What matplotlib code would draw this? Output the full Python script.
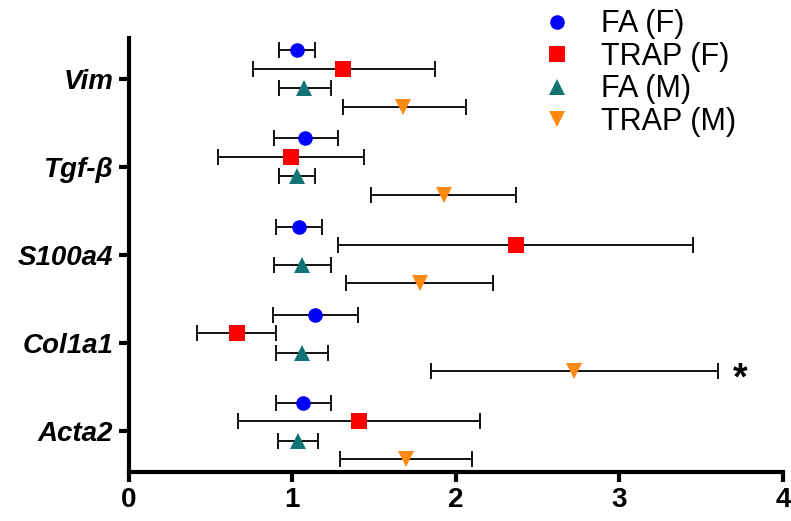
import matplotlib.pyplot as plt
import numpy as np

plt.rcParams["font.family"] = ["Liberation Sans", "DejaVu Sans"]

genes = ["Vim", "Tgf-β", "S100a4", "Col1a1", "Acta2"]
groups = ["FA (F)", "TRAP (F)", "FA (M)", "TRAP (M)"]

# mean, lower, upper for each gene (order as in genes)
fa_f_mean = [1.03, 1.08, 1.04, 1.14, 1.065]
fa_f_low = [0.92, 0.89, 0.90, 0.88, 0.90]
fa_f_high = [1.14, 1.28, 1.18, 1.40, 1.24]

trap_f_mean = [1.31, 0.99, 2.37, 0.66, 1.41]
trap_f_low = [0.76, 0.545, 1.28, 0.42, 0.67]
trap_f_high = [1.87, 1.44, 3.45, 0.90, 2.15]

fa_m_mean = [1.075, 1.03, 1.06, 1.06, 1.035]
fa_m_low = [0.92, 0.92, 0.89, 0.90, 0.915]
fa_m_high = [1.24, 1.14, 1.24, 1.22, 1.16]

trap_m_mean = [1.68, 1.925, 1.78, 2.72, 1.695]
trap_m_low = [1.31, 1.48, 1.33, 1.85, 1.29]
trap_m_high = [2.06, 2.37, 2.23, 3.60, 2.10]

series = [
    (fa_f_mean, fa_f_low, fa_f_high, "o", "#0000FF", 10.5),
    (trap_f_mean, trap_f_low, trap_f_high, "s", "#FF0000", 11),
    (fa_m_mean, fa_m_low, fa_m_high, "^", "#137474", 11),
    (trap_m_mean, trap_m_low, trap_m_high, "v", "#FF8811", 11),
]
offsets = [-0.32, -0.11, 0.11, 0.32]

fig = plt.figure(figsize=(7.91, 5.21), dpi=100)
ax = fig.add_axes([0.1625, 0.0946, 0.8275, 0.8325])

ypos = np.arange(len(genes))
handles = []
for (mean, low, high, mk, col, ms), off, lab in zip(series, offsets, groups):
    mean = np.array(mean)
    xerr = [mean - np.array(low), np.array(high) - mean]
    ax.errorbar(mean, ypos + off, xerr=xerr, fmt="none", ecolor="black",
                elinewidth=1.3, capsize=5.5, capthick=1.3, zorder=2)
    h, = ax.plot(mean, ypos + off, linestyle="none", marker=mk, color=col,
                 markersize=ms, markeredgewidth=0, zorder=3, label=lab)
    handles.append(h)

# significance mark
ax.text(3.74, 3 + 0.41, "*", fontsize=27, fontweight="bold",
        ha="center", va="center")

ax.set_xlim(0, 4)
ax.set_ylim(4.46, -0.46)
ax.set_xticks([0, 1, 2, 3, 4])
ax.set_yticks(ypos)
ax.set_yticklabels(genes, fontsize=20, fontweight="bold", fontstyle="italic")
for t in ax.get_xticklabels():
    t.set_fontsize(20)
    t.set_fontweight("bold")

for s in ["top", "right"]:
    ax.spines[s].set_visible(False)
for s in ["left", "bottom"]:
    ax.spines[s].set_linewidth(3)
ax.tick_params(axis="both", width=3, length=7, pad=4)

fig.legend(handles=handles, loc="upper left", bbox_to_anchor=(0.686, 0.982),
           frameon=False, fontsize=22, handlelength=0.95, handletextpad=0.95,
           labelspacing=0.08, borderpad=0, borderaxespad=0)

fig.savefig("out.png", dpi=100)
